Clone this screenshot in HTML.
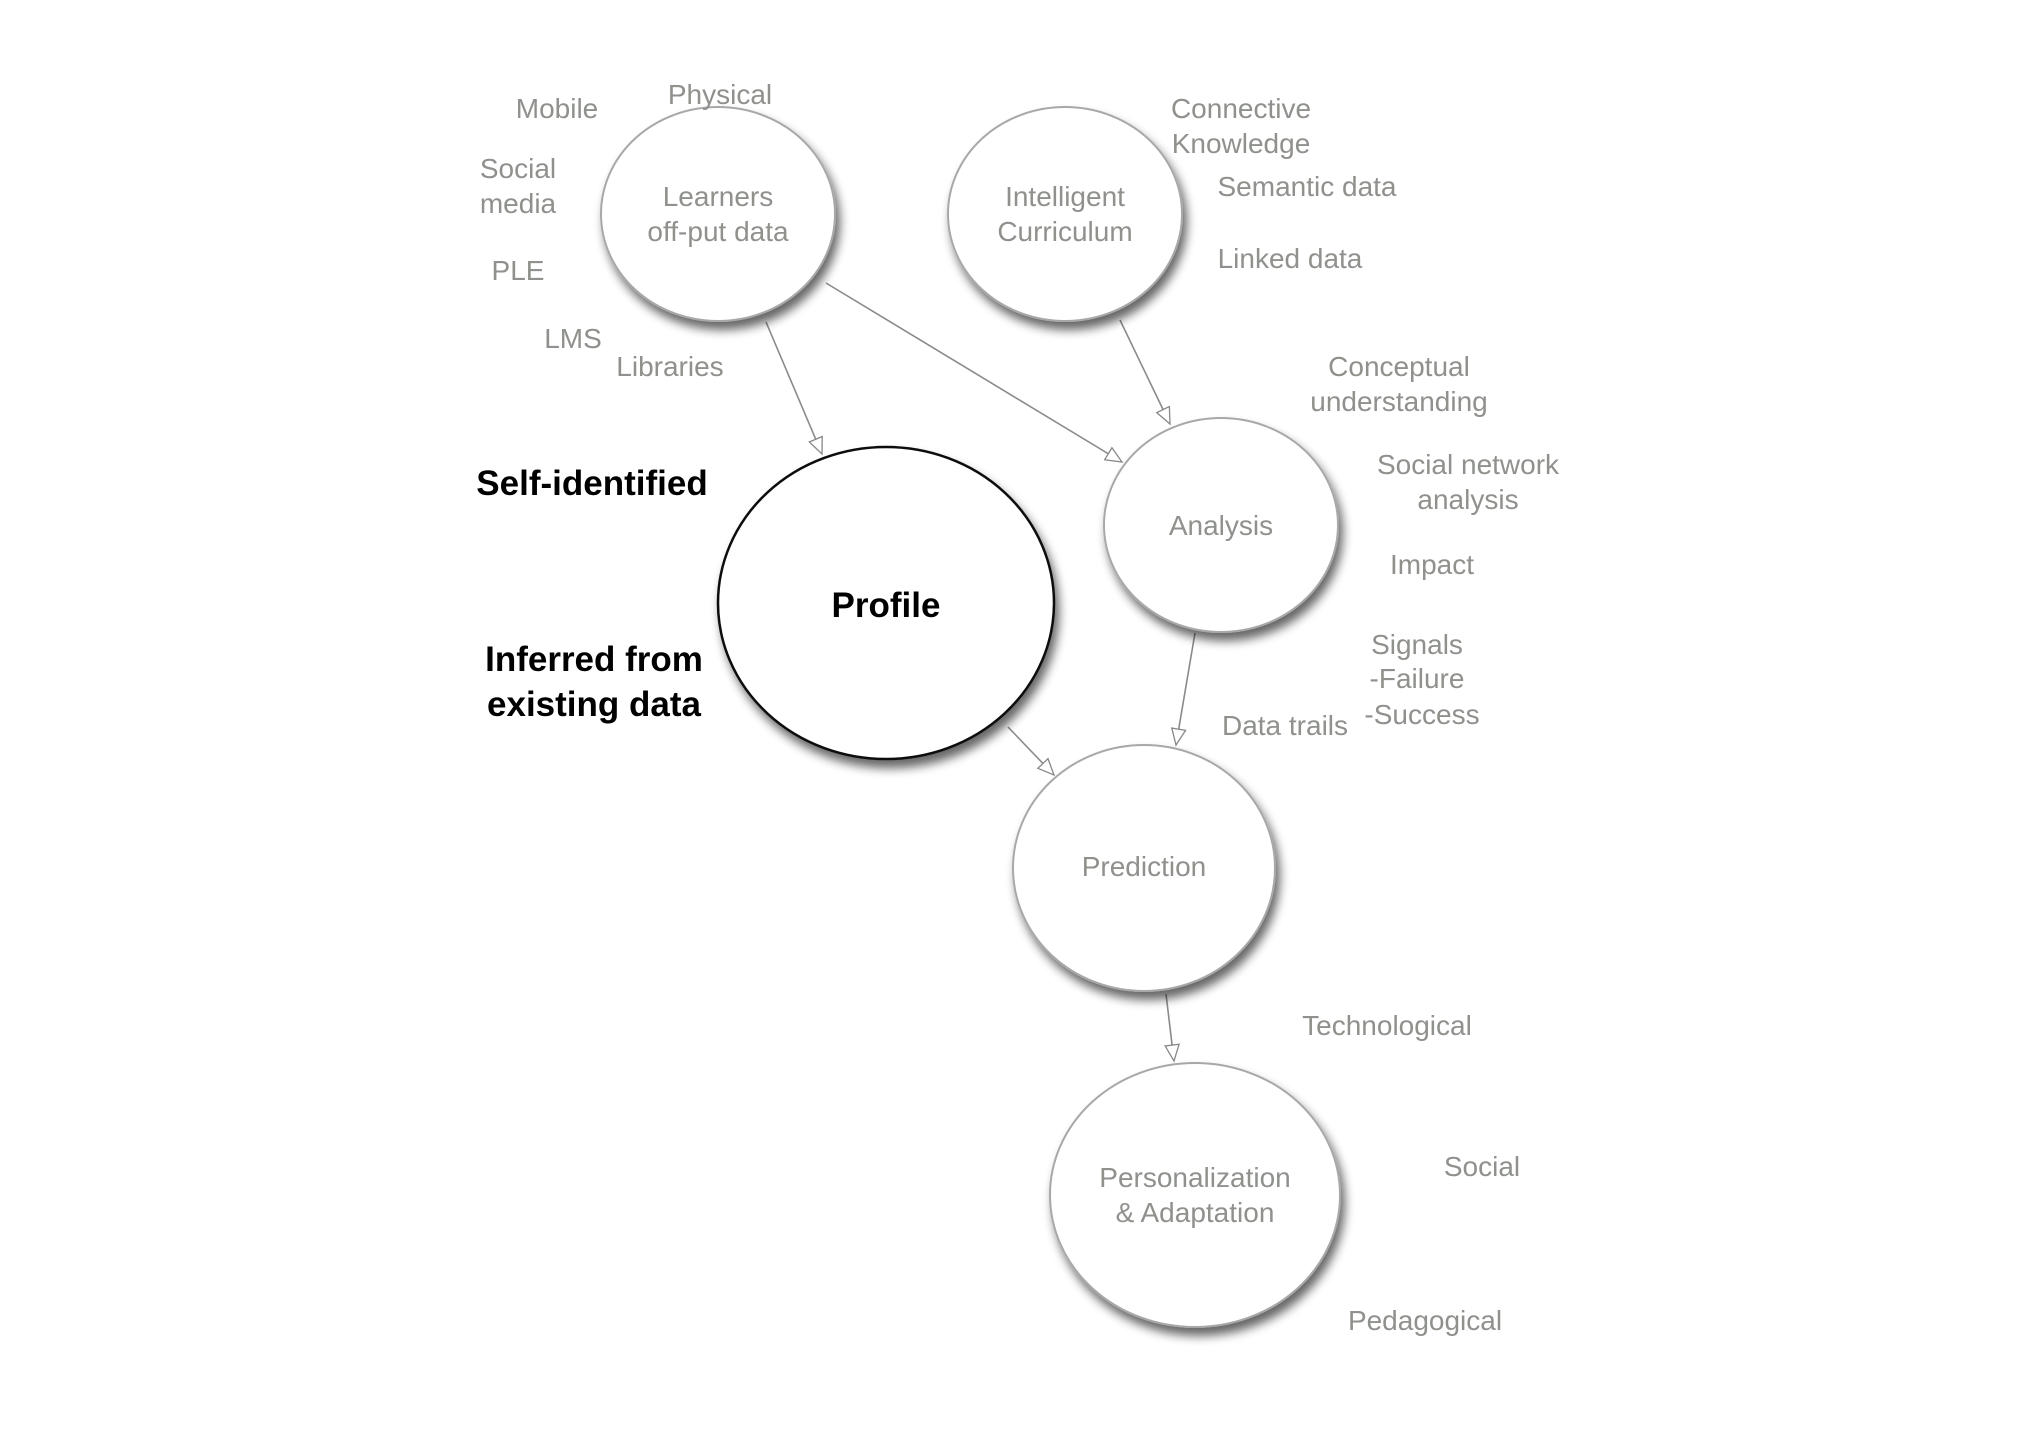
<!DOCTYPE html>
<html><head><meta charset="utf-8"><style>
html,body{margin:0;padding:0;background:#fff;}
svg{display:block}
text{font-family:"Liberation Sans",sans-serif;}
.g{fill:#8e918c;font-size:28px;text-anchor:middle}
.b{fill:#000;font-size:35px;font-weight:bold;text-anchor:middle}
</style></head><body>
<svg width="2037" height="1440" viewBox="0 0 2037 1440" xmlns="http://www.w3.org/2000/svg">
<defs>
<filter id="sh" x="-30%" y="-30%" width="160%" height="160%">
<feGaussianBlur in="SourceAlpha" stdDeviation="5"/>
<feOffset dx="4" dy="8"/>
<feComponentTransfer><feFuncA type="linear" slope="0.6"/></feComponentTransfer>
<feMerge><feMergeNode/><feMergeNode in="SourceGraphic"/></feMerge>
</filter>
<marker id="ar" markerWidth="20" markerHeight="18" refX="17" refY="8" orient="auto" markerUnits="userSpaceOnUse">
<path d="M1,1 L17,8 L1,15 Z" fill="#fff" stroke="#888" stroke-width="1.3"/>
</marker>
</defs>
<g stroke="#8a8a8a" stroke-width="1.6" fill="none" marker-end="url(#ar)">
<line x1="766" y1="322" x2="822" y2="454"/>
<line x1="826" y1="283" x2="1122" y2="462"/>
<line x1="1120" y1="320" x2="1170" y2="424"/>
<line x1="1195" y1="633" x2="1176" y2="745"/>
<line x1="1008" y1="727" x2="1054" y2="775"/>
<line x1="1166" y1="994" x2="1174" y2="1061"/>
</g>
<g filter="url(#sh)" fill="#fff">
<ellipse cx="718" cy="214" rx="117" ry="107" stroke="#a8a8a8" stroke-width="2"/>
<ellipse cx="1065" cy="214" rx="117" ry="107" stroke="#a8a8a8" stroke-width="2"/>
<ellipse cx="1221" cy="525" rx="117" ry="107" stroke="#a8a8a8" stroke-width="2"/>
<ellipse cx="886" cy="603" rx="168" ry="156" stroke="#111" stroke-width="2.5"/>
<ellipse cx="1144" cy="868" rx="131" ry="123" stroke="#a8a8a8" stroke-width="2"/>
<ellipse cx="1195" cy="1195" rx="145" ry="132" stroke="#a8a8a8" stroke-width="2"/>
</g>
<g class="g">
<text x="557" y="118">Mobile</text>
<text x="720" y="104">Physical</text>
<text x="518" y="178">Social</text>
<text x="518" y="213">media</text>
<text x="518" y="280">PLE</text>
<text x="573" y="348">LMS</text>
<text x="670" y="376">Libraries</text>
<text x="718" y="206">Learners</text>
<text x="718" y="241">off-put data</text>
<text x="1241" y="118">Connective</text>
<text x="1241" y="153">Knowledge</text>
<text x="1307" y="196">Semantic data</text>
<text x="1290" y="268">Linked data</text>
<text x="1065" y="206">Intelligent</text>
<text x="1065" y="241">Curriculum</text>
<text x="1399" y="376">Conceptual</text>
<text x="1399" y="411">understanding</text>
<text x="1468" y="474">Social network</text>
<text x="1468" y="509">analysis</text>
<text x="1432" y="574">Impact</text>
<text x="1221" y="535">Analysis</text>
<text x="1417" y="654">Signals</text>
<text x="1417" y="688">-Failure</text>
<text x="1422" y="724">-Success</text>
<text x="1285" y="735">Data trails</text>
<text x="1144" y="876">Prediction</text>
<text x="1387" y="1035">Technological</text>
<text x="1482" y="1176">Social</text>
<text x="1195" y="1187">Personalization</text>
<text x="1195" y="1222">&amp; Adaptation</text>
<text x="1425" y="1330">Pedagogical</text>
</g>
<g class="b">
<text x="592" y="495">Self-identified</text>
<text x="886" y="617">Profile</text>
<text x="594" y="671">Inferred from</text>
<text x="594" y="716">existing data</text>
</g>
</svg>
</body></html>
